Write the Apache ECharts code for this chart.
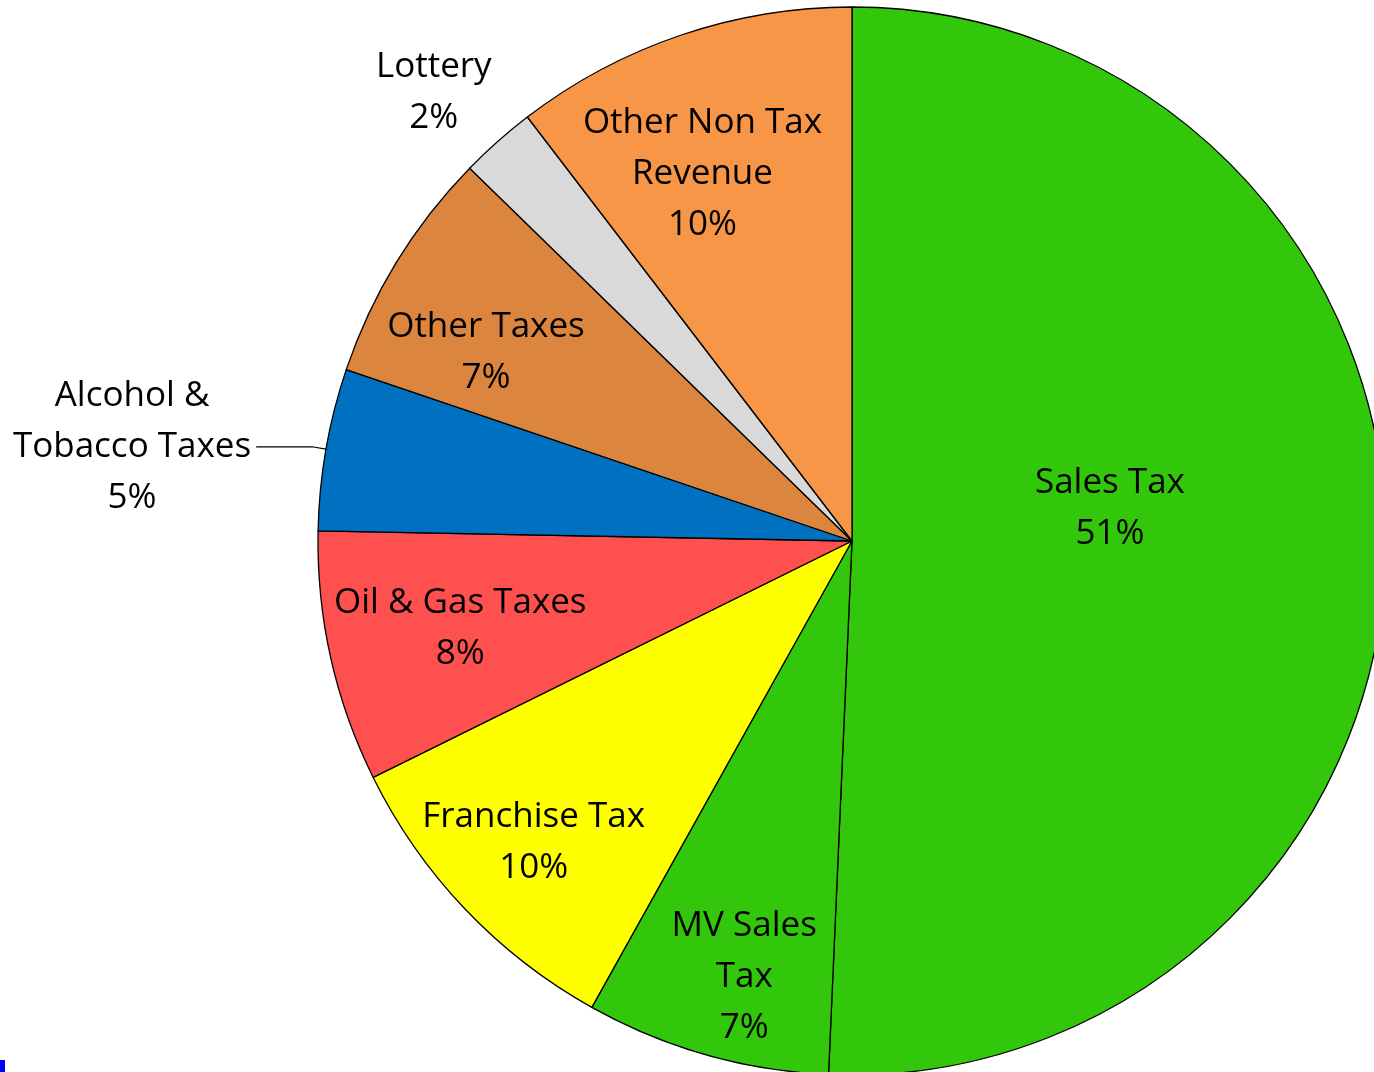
<!DOCTYPE html>
<html>
<head>
<meta charset="utf-8">
<title>Revenue Sources</title>
<script src="https://cdn.jsdelivr.net/npm/echarts@6/dist/echarts.min.js"></script>
<style>
    html, body { margin: 0; padding: 0; background: #ffffff; }
    #revenuePie { width: 1374px; height: 1072px; }
</style>
</head>
<body>
<div id="revenuePie"></div>
<script>
//////////////////////////////
//          数据
//////////////////////////////
var categories = ['Sales Tax', 'MV Sales Tax', 'Franchise Tax', 'Oil & Gas Taxes',
    'Alcohol & Tobacco Taxes', 'Other Taxes', 'Lottery', 'Other Non Tax Revenue'];
// 标签文字（换行同原图）
var labelTexts = ['Sales Tax', 'MV Sales\nTax', 'Franchise Tax', 'Oil & Gas Taxes',
    'Alcohol &\nTobacco Taxes', 'Other Taxes', 'Lottery', 'Other Non Tax\nRevenue'];
// 份额（%），从图上量角度估出
var shareValues = [50.7, 7.4, 9.6, 7.6, 4.9, 7.1, 2.3, 10.4];
var sliceColors = ['#33c70b', '#33c70b', '#ffff00', '#ff5050', '#0070c0', '#dc853f', '#d9d9d9', '#f79646'];

// 标签放在哪一层
var outerLabels = ['Alcohol & Tobacco Taxes', 'Lottery'];
var ringALabels = ['Oil & Gas Taxes', 'Other Taxes', 'Other Non Tax Revenue'];
var ringBLabels = ['MV Sales Tax', 'Franchise Tax'];

var FONT = '"Open Sans", sans-serif';
var cx = 852, cy = 541, R = 534;

// 标签微调
var labelNudge = {
    'Sales Tax': [-12, -38],
    'Lottery': [9, -38],
    'Other Taxes': [-22, 22],
    'Other Non Tax Revenue': [-20, 15],
    'Oil & Gas Taxes': [2, 0],
    'MV Sales Tax': [14, 7],
    'Franchise Tax': [5, -6]
};

function labelFormatter(params) {
    var lines = labelTexts[params.dataIndex].split('\n');
    lines.push(Math.round(params.percent) + '%');
    return lines.map(function(s) { return '{c|' + s + '}'; }).join('\n');
}

var richStyle = {
    c: {
        align: 'center',
        fontFamily: FONT,
        fontSize: 35,
        lineHeight: 51,
        color: '#000000'
    }
};

function buildData(showFn, transparent) {
    var data = [];
    for (var i = 0; i < categories.length; i++) {
        var item = {
            name: categories[i],
            value: shareValues[i],
            itemStyle: transparent ? { color: 'rgba(0,0,0,0)', borderWidth: 0 } : { color: sliceColors[i] },
            label: { show: showFn(categories[i]) }
        };
        data.push(item);
    }
    return data;
}

var mainData = buildData(function(n) { return n === 'Sales Tax' || outerLabels.indexOf(n) >= 0; }, false);
for (var i = 0; i < mainData.length; i++) {
    var n = mainData[i].name;
    if (n === 'Alcohol & Tobacco Taxes') {
        mainData[i].label.position = 'outside';
        mainData[i].labelLine = { show: true, length: 14, length2: 56, lineStyle: { color: '#000', width: 1.2 } };
    } else if (n === 'Lottery') {
        mainData[i].label.position = 'outside';
        mainData[i].labelLine = { show: false, length: 15, length2: 0 };
    } else {
        mainData[i].label.position = 'inside';
        mainData[i].labelLine = { show: false };
    }
}

var myChart = echarts.init(document.getElementById('revenuePie'));

var baseLabel = {
    formatter: labelFormatter,
    rich: richStyle,
    fontFamily: FONT,
    fontSize: 35,
    lineHeight: 51,
    color: '#000'
};

// 只调整真正显示标签的那一层
function nudgeFor(layer) {
    return function(params) {
        var name = categories[params.dataIndex];
        var d = labelNudge[name];
        if (!d || layer.indexOf(name) < 0) return {};
        return { dx: d[0], dy: d[1] };
    };
}

var option = {
    animation: false,
    backgroundColor: '#ffffff',
    series: [{
        // 主饼图
        type: 'pie',
        center: [cx, cy],
        radius: R,
        startAngle: 90,
        clockwise: true,
        avoidLabelOverlap: false,
        silent: true,
        itemStyle: { borderColor: '#000000', borderWidth: 1.3 },
        label: baseLabel,
        labelLayout: nudgeFor(['Sales Tax', 'Lottery']),
        data: mainData
    }, {
        // 透明环A，标签在0.75R
        type: 'pie',
        center: [cx, cy],
        radius: [R * 0.5, R],
        startAngle: 90,
        silent: true,
        avoidLabelOverlap: false,
        label: Object.assign({ position: 'inside' }, baseLabel),
        labelLine: { show: false },
        labelLayout: nudgeFor(ringALabels),
        data: buildData(function(n) { return ringALabels.indexOf(n) >= 0; }, true)
    }, {
        // 透明环B，标签在0.83R
        type: 'pie',
        center: [cx, cy],
        radius: [R * 0.66, R],
        startAngle: 90,
        silent: true,
        avoidLabelOverlap: false,
        label: Object.assign({ position: 'inside' }, baseLabel),
        labelLine: { show: false },
        labelLayout: nudgeFor(ringBLabels),
        data: buildData(function(n) { return ringBLabels.indexOf(n) >= 0; }, true)
    }],
    graphic: [{
        type: 'rect',
        left: 0,
        top: 1060,
        shape: { width: 5, height: 12 },
        style: { fill: '#0000ff' }
    }]
};

myChart.setOption(option);
</script>
</body>
</html>
